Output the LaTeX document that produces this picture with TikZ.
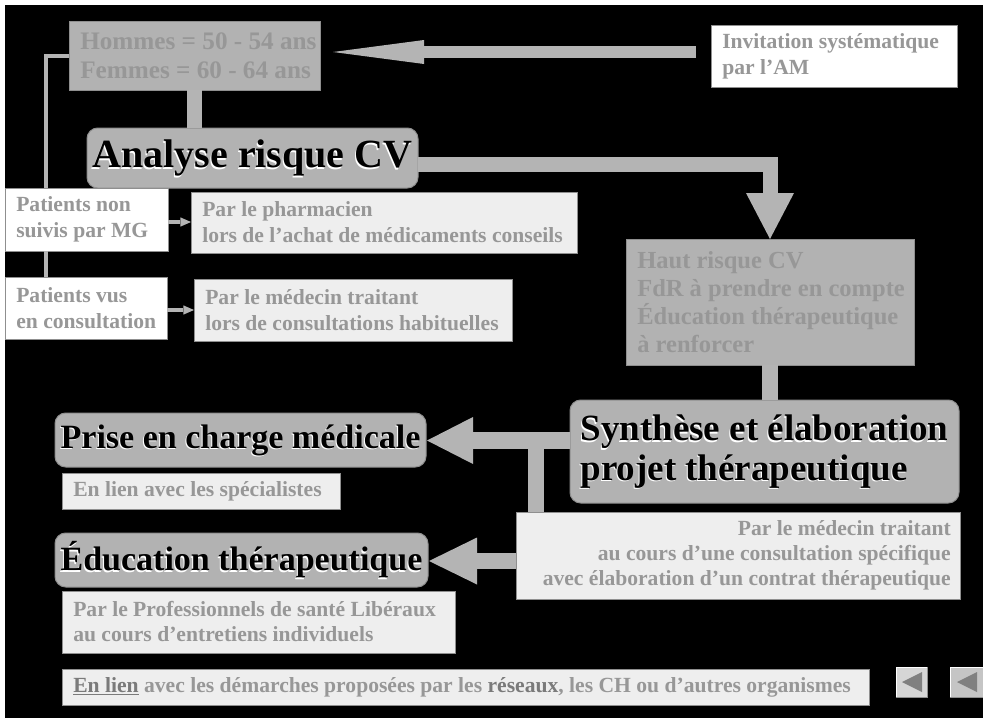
\documentclass[tikz,border=0pt]{standalone}
\usepackage{fontspec}
\setmainfont{Liberation Serif}
\usetikzlibrary{calc,arrows.meta}
\definecolor{boxgray}{HTML}{B2B2B2}
\definecolor{txtgray}{HTML}{979797}
\definecolor{lightfill}{HTML}{EEEEEE}
\definecolor{edgegray}{HTML}{8F8F8F}
\definecolor{conn}{HTML}{B4B4B4}
\definecolor{darktxt}{HTML}{7A7A7A}
\definecolor{btnfill}{HTML}{D6D6D6}
\definecolor{btntri}{HTML}{808080}
\newcommand\fsmall{\fontsize{16.2pt}{19.5pt}\selectfont\bfseries}
\newcommand\fsmallb{\fontsize{16.2pt}{18.75pt}\selectfont\bfseries}
\newcommand\fmed{\fontsize{18.4pt}{21pt}\selectfont\bfseries}
\newcommand\fhom{\fontsize{18.9pt}{21.9pt}\selectfont\bfseries}
\newcommand\fbig{\fontsize{25.5pt}{29pt}\selectfont\bfseries}
\newcommand\fsyn{\fontsize{27.75pt}{29.5pt}\selectfont\bfseries}
\newcommand\fana{\fontsize{30pt}{32pt}\selectfont\bfseries}
% box: #1 box style, #2-#5 x1 y1 x2 y2 (px), #6 name, #7 text style, #8 text
\newcommand\BOX[8]{%
  \pgfmathsetlengthmacro\bw{(#4-#2)*0.75pt}%
  \pgfmathsetlengthmacro\bh{(#5-#3)*0.75pt}%
  \node[anchor=north west, minimum width=\bw, minimum height=\bh,
        inner sep=0pt, outer sep=0pt, #1] (#6) at (#2,#3) {};
  \node[boxtxt, anchor=west, #7] (#6t) at ($(#6.west)+(11,0)$) {#8};}
% right aligned variant
\newcommand\RBOX[8]{%
  \pgfmathsetlengthmacro\bw{(#4-#2)*0.75pt}%
  \pgfmathsetlengthmacro\bh{(#5-#3)*0.75pt}%
  \node[anchor=north west, minimum width=\bw, minimum height=\bh,
        inner sep=0pt, outer sep=0pt, #1] (#6) at (#2,#3) {};
  \node[boxtxt, anchor=east, align=right, #7] (#6t) at ($(#6.east)+(-9,0)$) {#8};}
\newcommand\BIG[5]{%
  \pgfmathsetlengthmacro\bw{(#3-#1)*0.75pt}%
  \pgfmathsetlengthmacro\bh{(#4-#2)*0.75pt}%
  \node[bigbox, anchor=north west, minimum width=\bw, minimum height=\bh] (#5) at (#1,#2) {};}
\newcommand\EMB[3]{%
  \node[bigtxt, #1, text=white] (#2s) at ($(#2.center)+(-1,1.5)$) {#3};
  \node[bigtxt, #1] (#2t) at (#2.center) {#3};}
\begin{document}
\begin{tikzpicture}[x=0.75pt,y=-0.75pt,
  graybox/.style={fill=boxgray, draw=edgegray, line width=0.75pt},
  lightbox/.style={fill=lightfill, draw=edgegray, line width=0.75pt},
  whitebox/.style={fill=white, draw=edgegray, line width=0.75pt},
  boxtxt/.style={text=txtgray, font=\fsmall, align=left, inner sep=0pt},
  bigbox/.style={fill=boxgray, draw=edgegray, line width=0.75pt, rounded corners=8pt, inner sep=0pt, outer sep=0pt},
  bigtxt/.style={font=\fbig, align=center, inner sep=0pt, text=black},
  thin conn/.style={draw=conn, line width=3pt},
  block/.style={draw=conn, line join=miter},
]
\useasboundingbox[fill=white] (0,0) rectangle (983,718);
\fill[black] (5,5) rectangle (983,718);

% ---------- boxes ----------
\BOX{graybox}{69}{21}{320}{90}{hom}{font=\fhom}{Hommes = 50 - 54 ans\\Femmes = 60 - 64 ans}
\BOX{whitebox}{711}{25}{957}{87}{inv}{}{Invitation systématique\\par l’AM}
\BIG{87}{128}{418}{188}{ana}
\EMB{font=\fana}{ana}{Analyse risque CV}
\BOX{whitebox}{5}{188}{168}{251}{pn}{}{Patients non\\suivis par MG}
\BOX{lightbox}{191}{192}{577}{253}{ph}{}{Par le pharmacien\\lors de l’achat de médicaments conseils}
\BOX{whitebox}{5}{277}{167}{339}{pv}{}{Patients vus\\en consultation}
\BOX{lightbox}{194}{279}{512}{341}{mh}{}{Par le médecin traitant\\lors de consultations habituelles}
\BOX{graybox}{626}{239}{914}{365}{hrk}{font=\fmed}{Haut risque CV\\FdR à prendre en compte\\Éducation thérapeutique\\à renforcer}
\BIG{570}{400}{959}{503}{syn}
\EMB{font=\fsyn, align=left}{syn}{Synthèse et élaboration\\projet thérapeutique}
\BIG{55}{413}{426}{467}{pec}
\EMB{}{pec}{Prise en charge médicale}
\BOX{lightbox}{62}{473}{340}{509}{spe}{}{En lien avec les spécialistes}
\RBOX{lightbox}{516}{512}{960}{599}{mt}{font=\fsmallb}{Par le médecin traitant\\au cours d’une consultation spécifique\\avec élaboration d’un contrat thérapeutique}
\BIG{55}{533}{428}{587}{edu}
\EMB{}{edu}{Éducation thérapeutique}
\BOX{lightbox}{62}{591}{455}{653}{pro}{font=\fsmallb}{Par le Professionnels de santé Libéraux\\au cours d’entretiens individuels}
\BOX{lightbox}{62}{669}{869}{705}{bot}{}{\textcolor{darktxt}{\underline{En lien}} avec les démarches proposées par les \textcolor{darktxt}{réseaux}, les CH ou d’autres organismes}

% ---------- connectors ----------
% Invitation -> Hommes
\coordinate (a1s) at ($(inv.west)+(-15,-4)$);
\coordinate (a1e) at ($(hom.east)+(13,-3.5)$);
\draw[block, line width=9pt, -{Triangle[length=68.25pt,width=18pt,line width=0pt]}] (a1s) -- (a1e);
% Hommes -> Analyse
\draw[block, line width=11.25pt] (hom.south) -- (hom.south |- ana.north);
% Analyse -> Haut risque
\coordinate (a2s) at ($(ana.east)+(0,6.5)$);
\draw[block, line width=11.25pt, -{Triangle[length=34.5pt,width=36pt,line width=0pt]}] (a2s) -| (hrk.north);
% Haut risque -> Synthese
\draw[block, line width=12pt] (hrk.south) -- (hrk.south |- syn.north);
% Synthese -> Prise en charge
\coordinate (a3e) at ($(pec.east)+(1,0.5)$);
\draw[block, line width=12.75pt, -{Triangle[length=34.5pt,width=35.25pt,line width=0pt]}] (syn.west |- a3e) -- (a3e);
% T junction down to medecin box
\coordinate (tj) at ($(mt.north west)+(20,0)$);
\draw[block, line width=12pt] (tj) -- (tj |- a3e);
% medecin box -> Education
\coordinate (a4e) at ($(edu.east)+(1,1)$);
\draw[block, line width=12pt, -{Triangle[length=36pt,width=35.25pt,line width=0pt]}] (mt.west |- a4e) -- (a4e);
% left thin line
\coordinate (lx1) at ($(pn.north west)+(41,0)$);
\coordinate (lx2) at ($(pn.south west)+(41,0)$);
\draw[thin conn] (hom.west) -| (lx1);
\draw[thin conn] (lx2) -- (lx2 |- pv.north);
% small arrows
\coordinate (s1) at ($(pn.east)+(0,2.5)$);
\draw[thin conn, -{Triangle[length=8pt,width=7pt,line width=0pt]}] (s1) -- (s1 -| ph.west);
\draw[thin conn, -{Triangle[length=8pt,width=7pt,line width=0pt]}] (pv.east |- mh.west) -- (mh.west);

% ---------- navigation buttons ----------
\fill[btnfill] (896,667) rectangle (927,697);
\draw[white, line width=0.75pt] (896,697) -- (896,667) -- (927,667);
\draw[edgegray, line width=0.75pt] (896,697) -- (927,697) -- (927,667);
\fill[btntri] (902,682) -- (922,672) -- (922,692) -- cycle;
\fill[btnfill!92!black] (950,667) rectangle (983,697);
\draw[white, line width=0.75pt] (950,697) -- (950,667) -- (983,667);
\draw[edgegray, line width=0.75pt] (950,697) -- (983,697);
\fill[btntri] (957,682) -- (977,672) -- (977,692) -- cycle;
\end{tikzpicture}
\end{document}
